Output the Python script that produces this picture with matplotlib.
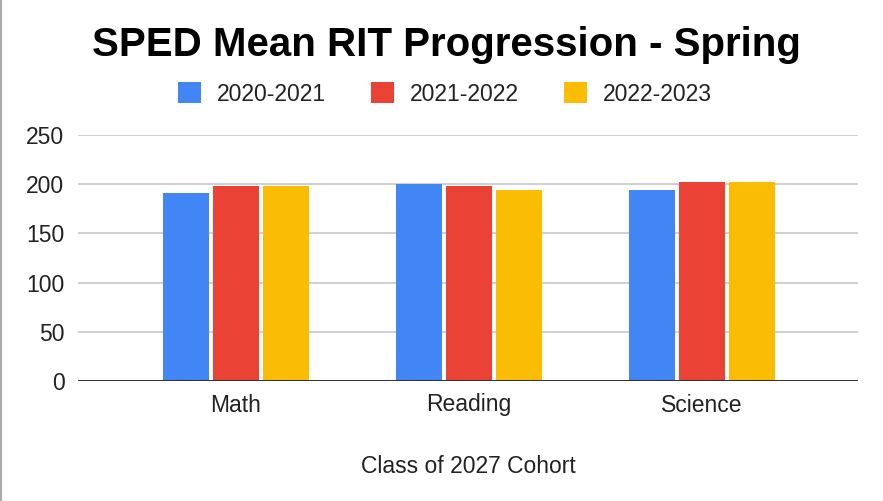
import matplotlib
matplotlib.use("Agg")
import matplotlib.pyplot as plt
from matplotlib.patches import Patch
from matplotlib.lines import Line2D
import numpy as np

plt.rcParams['font.family'] = ['Liberation Sans', 'DejaVu Sans']

# data
subjects = ['Math', 'Reading', 'Science']
years = ['2020-2021', '2021-2022', '2022-2023']
rit_2020 = [191, 200, 194]
rit_2021 = [198, 198, 202]
rit_2022 = [198, 194, 202]
colors = ['#4285F4', '#EA4335', '#FBBC04']

fig = plt.figure(figsize=(8.83, 5.01), dpi=100)
ax = fig.add_axes([78.3 / 883, 1 - 381 / 501, (858 - 78.3) / 883, (381 - 135) / 501])

x = np.arange(len(subjects))
step = 0.2146
width = 0.1987
for i, vals in enumerate([rit_2020, rit_2021, rit_2022]):
    ax.bar(x + (i - 1) * step, vals, width, color=colors[i], zorder=3)

ax.set_ylim(0, 250)
ax.set_yticks([0, 50, 100, 150, 200, 250])
ax.set_xlim(-0.677, 2.670)
ax.set_xticks(x)
ax.set_xticklabels(subjects)
ax.grid(axis='y', color='#cccccc', linewidth=1.3, zorder=0)
ax.axhline(0, color='#333333', linewidth=2.2, zorder=4)
for s in ax.spines.values():
    s.set_visible(False)
ax.tick_params(axis='both', length=0, labelsize=16.5, colors='#222222')
ax.tick_params(axis='y', pad=10)
ax.tick_params(axis='x', pad=9)

ax.set_xlabel('Class of 2027 Cohort', fontsize=16.5, color='#222222', labelpad=28)

fig.text(446 / 883, 1 - 45 / 501, 'SPED Mean RIT Progression - Spring',
         fontsize=29, fontweight='bold', ha='center', va='center')

handles = [Patch(facecolor=c, edgecolor='none') for c in colors]
fig.legend(handles, years, loc='center', bbox_to_anchor=(445 / 883, 1 - 94 / 501),
           ncol=3, frameon=False, fontsize=16.5, handlelength=1.0, handleheight=1.0,
           handletextpad=0.7, columnspacing=1.95, labelcolor='#222222')

# thin gray border on the left edge like the screenshot
fig.add_artist(Line2D([0.001, 0.001], [0, 1], color='#aaaaaa', linewidth=1.5,
                      transform=fig.transFigure))

fig.savefig('out.png', dpi=100, facecolor='white')
